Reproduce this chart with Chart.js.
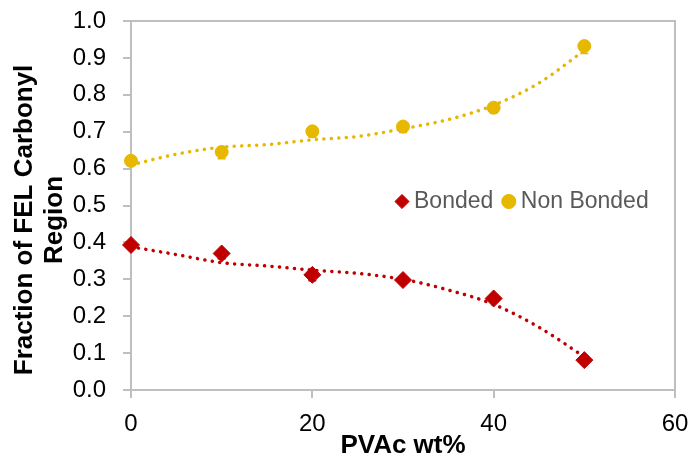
<!DOCTYPE html>
<html>
<head>
<meta charset="utf-8">
<script src="https://cdn.jsdelivr.net/npm/chart.js@4.4.1/dist/chart.umd.min.js"></script>
<style>
  html, body { margin: 0; padding: 0; background: #ffffff; }
  #wrap { width: 688px; height: 457px; position: relative; }
</style>
</head>
<body>
<div id="wrap"><canvas id="chart"></canvas></div>
<script>
// PVAc loading (wt%) and the fraction of the FEL carbonyl region in each state
const pvacWt = [0, 10, 20, 30, 40, 50];
const bonded = [0.393, 0.370, 0.312, 0.298, 0.248, 0.081];
const nonBonded = [0.621, 0.645, 0.701, 0.714, 0.765, 0.932];

// lower error bar lengths
const bondedErr = [0.006, 0.014, 0.016, 0.010, 0.010, 0.010];
const nonBondedErr = [0.010, 0.018, 0.016, 0.016, 0.014, 0.020];

// dotted trend curves
const trendWt = [0, 5, 10, 15, 20, 25, 30, 35, 40, 45, 50];
const bondedTrend = [0.388, 0.367, 0.345, 0.336, 0.325, 0.316, 0.300, 0.271, 0.232, 0.170, 0.090];
const nonBondedTrend = [0.610, 0.639, 0.658, 0.665, 0.678, 0.687, 0.708, 0.733, 0.772, 0.832, 0.920];

const xTickValues = [0, 20, 40, 60];

const RED = '#C00000';
const GOLD = '#E6B800';
const AXIS = '#BFBFBF';
const FONT = "'Liberation Sans', Arial, sans-serif";

const toPoints = (xs, ys) => xs.map((x, i) => ({ x: x, y: ys[i] }));

// grey box round the plot area
const plotFrame = {
  id: 'plotFrame',
  beforeDatasetsDraw(chart) {
    const { ctx, chartArea: a } = chart;
    ctx.save();
    ctx.strokeStyle = AXIS;
    ctx.lineWidth = 2;
    ctx.strokeRect(a.left, a.top, a.right - a.left, a.bottom - a.top);
    ctx.restore();
  }
};

// minus-direction error bars, drawn under the markers
const errorBars = {
  id: 'errorBars',
  beforeDatasetsDraw(chart) {
    const { ctx, scales: { x, y } } = chart;
    chart.data.datasets.forEach(ds => {
      if (!ds.errMinus) return;
      ctx.save();
      ctx.strokeStyle = ds.borderColor;
      ctx.lineWidth = 1.5;
      ds.data.forEach((p, i) => {
        const px = x.getPixelForValue(p.x);
        const py = y.getPixelForValue(p.y);
        const pe = y.getPixelForValue(p.y - ds.errMinus[i]);
        ctx.beginPath();
        ctx.moveTo(px, py);
        ctx.lineTo(px, pe);
        ctx.moveTo(px - 4, pe);
        ctx.lineTo(px + 4, pe);
        ctx.stroke();
      });
      ctx.restore();
    });
  }
};

// the legend sits inside the plot, so it takes no room in the layout
const legendInside = {
  id: 'legendInside',
  beforeLayout(chart) {
    const lg = chart.legend;
    if (lg && !lg._inside) {
      const fit = lg.fit.bind(lg);
      lg.fit = function () { fit(); this.height = 0; };
      lg._inside = true;
    }
  },
  afterLayout(chart) {
    const lg = chart.legend;
    if (!lg) return;
    lg.left = 386.5;
    lg.right = 686;
    lg.top = 175;
    lg.bottom = 232;
  }
};

new Chart(document.getElementById('chart'), {
  type: 'scatter',
  data: {
    datasets: [
      {
        label: 'Bonded',
        data: toPoints(pvacWt, bonded),
        errMinus: bondedErr,
        pointStyle: 'rectRot',
        pointRadius: 8.5,
        borderColor: RED,
        backgroundColor: RED,
        borderWidth: 1,
        clip: false,
        order: 0
      },
      {
        label: 'Non Bonded',
        data: toPoints(pvacWt, nonBonded),
        errMinus: nonBondedErr,
        pointStyle: 'circle',
        pointRadius: 6.5,
        borderColor: GOLD,
        backgroundColor: GOLD,
        borderWidth: 1,
        clip: false,
        order: 0
      },
      {
        label: 'Bonded trend',
        data: toPoints(trendWt, bondedTrend),
        showLine: true,
        pointRadius: 0,
        borderColor: RED,
        backgroundColor: RED,
        borderWidth: 3.5,
        borderDash: [0.1, 7.4],
        borderCapStyle: 'round',
        cubicInterpolationMode: 'monotone',
        clip: false,
        order: 1
      },
      {
        label: 'Non Bonded trend',
        data: toPoints(trendWt, nonBondedTrend),
        showLine: true,
        pointRadius: 0,
        borderColor: GOLD,
        backgroundColor: GOLD,
        borderWidth: 3.5,
        borderDash: [0.1, 7.4],
        borderCapStyle: 'round',
        cubicInterpolationMode: 'monotone',
        clip: false,
        order: 1
      }
    ]
  },
  options: {
    responsive: true,
    maintainAspectRatio: false,
    animation: false,
    devicePixelRatio: 1,
    layout: { padding: { top: 21, right: 13, bottom: 0, left: 0 } },
    plugins: {
      tooltip: { enabled: false },
      legend: {
        display: true,
        position: 'top',
        align: 'start',
        labels: {
          usePointStyle: true,
          boxWidth: 1,
          boxHeight: 10,
          padding: 15,
          color: '#595959',
          font: { family: FONT, size: 23 },
          filter: item => item.datasetIndex < 2
        }
      }
    },
    scales: {
      x: {
        type: 'linear',
        min: 0,
        max: 60,
        afterBuildTicks: s => { s.ticks = xTickValues.map(v => ({ value: v })); },
        afterFit: s => { s.height = 67; s.paddingLeft = 0; s.paddingRight = 0; },
        border: { display: false },
        grid: { drawOnChartArea: false, drawTicks: true, tickLength: 8, color: AXIS, lineWidth: 2 },
        ticks: { color: '#000000', font: { family: FONT, size: 24 }, padding: 12, maxRotation: 0 },
        title: {
          display: true,
          text: 'PVAc wt%',
          color: '#000000',
          font: { family: FONT, size: 26, weight: 'bold', lineHeight: 1.0 },
          padding: { top: 0, bottom: -1.5 }
        }
      },
      y: {
        type: 'linear',
        min: 0,
        max: 1,
        afterFit: s => { s.width = 131; s.paddingTop = 0; s.paddingBottom = 0; },
        border: { display: false },
        grid: { drawOnChartArea: false, drawTicks: true, tickLength: 8, color: AXIS, lineWidth: 2 },
        ticks: {
          stepSize: 0.1,
          color: '#000000',
          font: { family: FONT, size: 24 },
          padding: 17,
          callback: v => Number(v).toFixed(1)
        },
        title: {
          display: true,
          text: ['Fraction of FEL Carbonyl    ', 'Region    '],
          color: '#000000',
          font: { family: FONT, size: 26, weight: 'bold', lineHeight: 1.154 },
          padding: { top: 9.5, bottom: 0 }
        }
      }
    }
  },
  plugins: [plotFrame, errorBars, legendInside]
});
</script>
</body>
</html>
